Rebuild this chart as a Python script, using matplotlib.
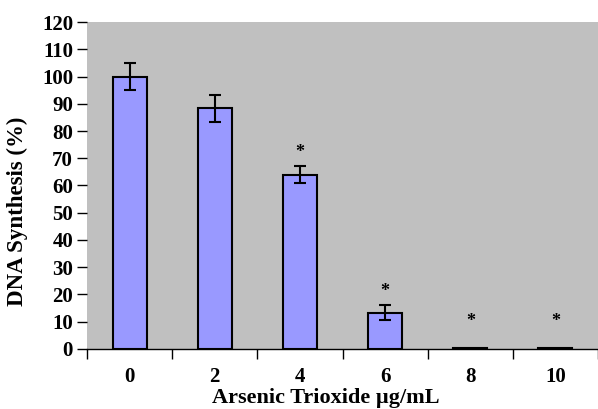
import matplotlib.pyplot as plt
import numpy as np

doses = ['0', '2', '4', '6', '8', '10']
synthesis = [100, 88.3, 64, 13.3, 0.3, 0.3]
errors = [5, 5, 3, 2.7, 0, 0]
signif = [False, False, True, True, True, True]
star_y = [0, 0, 72, 21, 10, 10]

plt.rcParams['font.family'] = ['Liberation Serif', 'DejaVu Serif']
plt.rcParams['font.weight'] = 'bold'

fig = plt.figure(figsize=(5.98, 4.09), dpi=100)
ax = fig.add_axes([0.1455, 0.147, 0.8545, 0.799])
ax.set_facecolor('#c0c0c0')

x = np.arange(len(doses))
ax.bar(x, synthesis, width=0.4, color='#9999ff', edgecolor='black', linewidth=1.5, zorder=2)
ax.errorbar(x[:4], synthesis[:4], yerr=errors[:4], fmt='none', ecolor='black',
            elinewidth=1.5, capsize=4, capthick=1.5, zorder=3)
for xi, s, yy in zip(x, signif, star_y):
    if s:
        ax.text(xi, yy, '*', ha='center', va='center', fontsize=13, zorder=4)

ax.set_xlim(-0.5, 5.5)
ax.set_ylim(0, 120)
ax.set_yticks(range(0, 121, 10))
ax.set_xticks(x)
ax.set_xticklabels(doses, fontsize=15, fontweight='bold')
ax.set_xticks(np.arange(-0.5, 5.6, 1), minor=True)
ax.tick_params(axis='x', which='major', length=0, pad=13)
ax.tick_params(axis='x', which='minor', length=7, width=1, direction='out')
ax.tick_params(axis='y', labelsize=15, length=7, width=1, pad=3)
for lab in ax.get_yticklabels():
    lab.set_fontweight('bold')

for side in ['top', 'right']:
    ax.spines[side].set_visible(False)
ax.spines['left'].set_visible(False)
ax.spines['bottom'].set_linewidth(1)

ax.set_ylabel('DNA Synthesis (%)', fontsize=16.5, fontweight='bold')
ax.yaxis.set_label_coords(-0.115, 0.42)
ax.set_xlabel('Arsenic Trioxide µg/mL', fontsize=16, fontweight='bold')
ax.xaxis.set_label_coords(0.468, -0.12)
ax.xaxis.label.set_va('top')

fig.savefig('out.png', dpi=100)
